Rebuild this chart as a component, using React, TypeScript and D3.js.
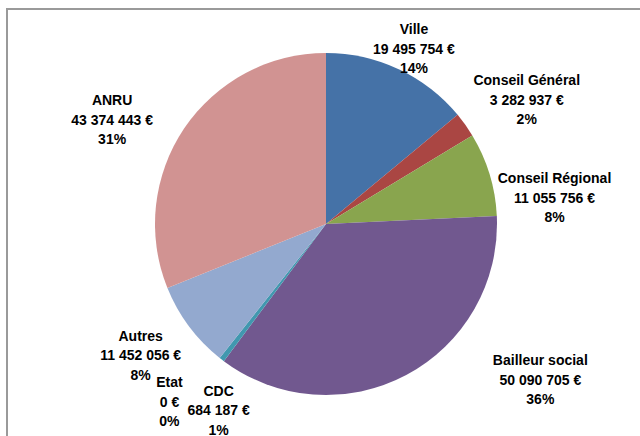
import React from 'react';
import * as d3 from 'd3';

const categories = ['Ville', 'Conseil Général', 'Conseil Régional', 'Bailleur social', 'CDC', 'Etat', 'Autres', 'ANRU'];
const amounts = [19495754, 3282937, 11055756, 50090705, 684187, 0, 11452056, 43374443];
const amountLabels = ['19 495 754 €', '3 282 937 €', '11 055 756 €', '50 090 705 €', '684 187 €', '0 €', '11 452 056 €', '43 374 443 €'];
const percentLabels = ['14%', '2%', '8%', '36%', '1%', '0%', '8%', '31%'];

const colors = ['#4572A7', '#AA4643', '#89A54E', '#71588F', '#4198AF', '#DB843D', '#93A9CF', '#D19392'];

// label placement: angle nudge (deg) from slice middle, distance from centre
const labelNudge = [1.5, 3.7, 10.4, -26, -7.6, 2.9, 1.5, -8];
const labelDist = [196, 236, 230, 265, 215, 237, 227, 238];

const W = 640;
const H = 436;
const cx = 326;
const cy = 224;
const radius = 171;

export default function App() {
  const pie = d3.pie<number>().sort(null).value(d => d)(amounts);
  const arc = d3.arc<d3.PieArcDatum<number>>().innerRadius(0).outerRadius(radius);
  const lineH = 19.5;

  return (
    <svg width={W} height={H} style={{ position: 'absolute', left: 0, top: 0, background: '#fff' }}>
      <rect x={7} y={9} width={W} height={H} fill="#fff" stroke="#9a9a9a" strokeWidth={2} />
      <g transform={`translate(${cx},${cy})`}>
        {pie.map((d, i) => (
          <path key={categories[i]} d={arc(d) || ''} fill={colors[i]} />
        ))}
        {pie.map((d, i) => {
          const mid = (d.startAngle + d.endAngle) / 2 + (labelNudge[i] * Math.PI) / 180;
          const x = Math.sin(mid) * labelDist[i];
          const y = -Math.cos(mid) * labelDist[i];
          return (
            <text
              key={'l' + i}
              x={x}
              y={y}
              textAnchor="middle"
              fontFamily="'Liberation Sans Narrow', 'Liberation Sans', sans-serif"
              fontWeight="bold"
              fontSize={14}
              fill="#000"
            >
              <tspan x={x} dy={-lineH + 5}>{categories[i]}</tspan>
              <tspan x={x} dy={lineH}>{amountLabels[i]}</tspan>
              <tspan x={x} dy={lineH}>{percentLabels[i]}</tspan>
            </text>
          );
        })}
      </g>
    </svg>
  );
}
